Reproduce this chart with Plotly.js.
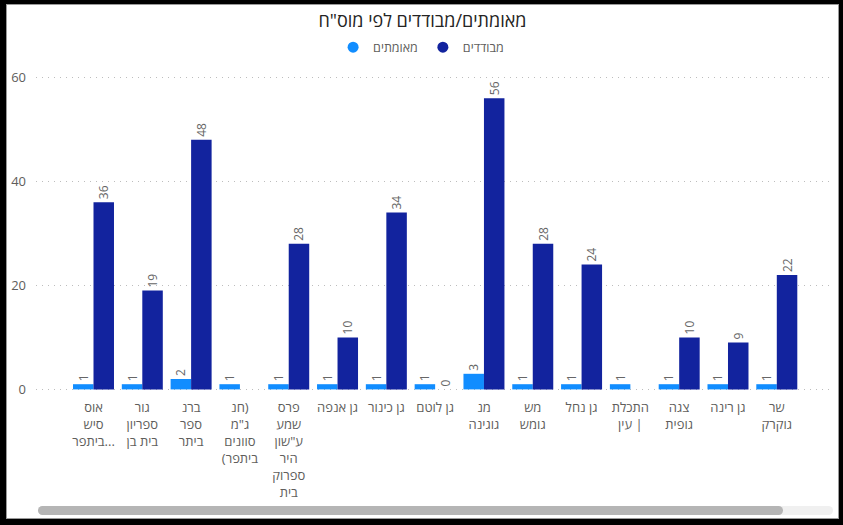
<!DOCTYPE html>
<html><head><meta charset="utf-8">
<script src="https://cdn.plot.ly/plotly-3.0.1.min.js"></script>
<style>
html,body{margin:0;padding:0;background:#000;width:843px;height:525px;overflow:hidden;}
#frame{position:absolute;left:7px;top:5px;width:831px;height:513px;background:#fff;box-shadow:0 0 0 1px #9a9a9a;}
#chart{position:absolute;left:0;top:0;width:831px;height:513px;}
#track{position:absolute;left:31px;top:501px;width:795px;height:9px;background:#f0f0f0;border-radius:5px;}
#thumb{position:absolute;left:31px;top:501px;width:745px;height:9px;background:#b5b5b5;border-radius:5px;}
</style></head>
<body>
<div id="frame"><div id="chart"></div><div id="track"></div><div id="thumb"></div></div>
<script>
const categories = [
  "אוס<br>סיש<br>ביתפר...",
  "גור<br>ספריון<br>בית בן",
  "ברנ<br>ספר<br>ביתר",
  "חנ)<br>ג\"מ<br>סוונים<br>(ביתפר",
  "פרס<br>שמע<br>ע\"שון<br>היר<br>ספרוק<br>בית",
  "גן אנפה",
  "גן כינור",
  "גן לוטם",
  "מנ<br>גוגינה",
  "מש<br>גומש",
  "גן נחל",
  "התכלת<br>עין |",
  "צגה<br>גופית",
  "גן רינה",
  "שר<br>גוקרק"
];
const confirmed = [1, 1, 2, 1, 1, 1, 1, 1, 3, 1, 1, 1, 1, 1, 1];
const isolated  = [36, 19, 48, null, 28, 10, 34, 0, 56, 28, 24, null, 10, 9, 22];
const seriesNames = ["מאומתים", "מבודדים"];
const titleText = "מאומתים/מבודדים לפי מוס\"ח";
const yTicks = [0, 20, 40, 60];

const FONT = "'Segoe UI', 'Open Sans', 'DejaVu Sans', sans-serif";
const LIGHT = "#118DFF", DARK = "#12239E";
const idx = categories.map((_, i) => i);
const lbl = arr => arr.map(v => v === null ? "" : String(v));

const traces = [
  {type:"bar", x: idx, y: confirmed, marker:{color:LIGHT}, text: lbl(confirmed),
   textposition:"outside", textangle:-90, constraintext:"none", cliponaxis:false,
   textfont:{family:FONT, size:12, color:"#666666"}, showlegend:false, hoverinfo:"y", name: seriesNames[0]},
  {type:"bar", x: idx, y: isolated, marker:{color:DARK}, text: lbl(isolated),
   textposition:"outside", textangle:-90, constraintext:"none", cliponaxis:false,
   textfont:{family:FONT, size:12, color:"#666666"}, showlegend:false, hoverinfo:"y", name: seriesNames[1]},
  {type:"scatter", mode:"markers", x:[null], y:[null], name: seriesNames[0], marker:{color:LIGHT, size:11, symbol:"circle"}},
  {type:"scatter", mode:"markers", x:[null], y:[null], name: seriesNames[1], marker:{color:DARK, size:11, symbol:"circle"}}
];

const layout = {
  width: 831, height: 513,
  margin: {l:29, r:8, t:62, b:126, pad:0},
  paper_bgcolor:"#ffffff", plot_bgcolor:"#ffffff",
  font:{family:FONT, color:"#605E5C"},
  title:{text:titleText, font:{family:FONT, size:18, color:"#252423"}, x:0.5, xanchor:"center", y:0.97, yanchor:"middle", xref:"container", yref:"container"},
  barmode:"group", bargap:0.16, bargroupgap:0,
  showlegend:true,
  legend:{orientation:"h", x:0.485, xanchor:"center", y:1.06, yanchor:"middle", itemwidth:30,
          font:{family:FONT, size:12.5, color:"#605E5C"}, itemclick:false, traceorder:"normal"},
  xaxis:{type:"linear", range:[-1.178, 15.09], tickmode:"array", tickvals: idx, ticktext: categories,
         tickfont:{family:FONT, size:13, color:"#605E5C"}, showgrid:false, zeroline:false, showline:false,
         ticks:"", ticklabelstandoff:6, fixedrange:true},
  yaxis:{range:[-0.5, 62], tickmode:"array", tickvals: yTicks, ticktext: yTicks.map(String),
         tickfont:{family:FONT, size:13, color:"#605E5C"}, showgrid:true, gridcolor:"#bdbdbd", griddash:"1px,5px", gridwidth:1,
         zeroline:false, showline:false, ticks:"", ticklabelstandoff:9, fixedrange:true}
};

Plotly.newPlot("chart", traces, layout, {displayModeBar:false, staticPlot:true});
</script>
</body></html>
